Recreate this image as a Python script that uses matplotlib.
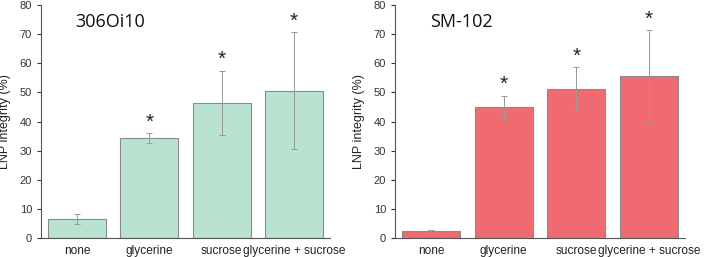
import matplotlib
matplotlib.use("Agg")
import matplotlib.pyplot as plt

plt.rcParams['font.family'] = ['Liberation Sans', 'DejaVu Sans']

categories = ["none", "glycerine", "sucrose", "glycerine + sucrose"]
left_title = "306Oi10"
left_values = [6.5, 34.2, 46.4, 50.6]
left_errors = [1.7, 1.7, 11.1, 20.1]
right_title = "SM-102"
right_values = [2.3, 45.1, 51.1, 55.6]
right_errors = [0.55, 3.8, 7.6, 15.8]
left_sig = [False, True, True, True]
right_sig = [False, True, True, True]
yticks = [0, 10, 20, 30, 40, 50, 60, 70, 80]

fig = plt.figure(figsize=(7.08, 2.57), dpi=100)
ax1 = fig.add_axes([41/708, 1-238/257, 289/708, 233/257])
ax2 = fig.add_axes([395/708, 1-238/257, 290/708, 233/257])

def draw(ax, title, vals, errs, sig, color):
    x = list(range(len(categories)))
    ax.bar(x, vals, width=0.8, color=color, edgecolor='#8a8a8a', linewidth=0.8, zorder=2)
    ax.errorbar(x, vals, yerr=errs, fmt='none', ecolor='#9a9a9a', elinewidth=0.7,
                capsize=2, capthick=0.7, zorder=3)
    for xi, v, e, s in zip(x, vals, errs, sig):
        if s:
            ax.text(xi, v + e + 0.5, "*", ha='center', va='bottom', fontsize=15, color='#222222')
    ax.set_xlim(-0.5, 3.5)
    ax.set_ylim(0, 80)
    ax.set_yticks(yticks)
    ax.set_xticks(x)
    ax.set_xticklabels(categories, fontsize=8.6)
    ax.tick_params(axis='x', length=0, pad=5, colors='#222222')
    ax.tick_params(axis='y', labelsize=8, length=3, direction='out', colors='#333333')
    for sp in ['top', 'right']:
        ax.spines[sp].set_visible(False)
    for sp in ['left', 'bottom']:
        ax.spines[sp].set_color('#555555')
        ax.spines[sp].set_linewidth(0.8)
    ax.set_ylabel("LNP integrity (%)", fontsize=9, color='#222222', labelpad=6)
    ax.text(0.12, 0.925, title, transform=ax.transAxes, fontsize=13,
            ha='left', va='center', family=['Open Sans', 'DejaVu Sans'], color='#111111')

draw(ax1, left_title, left_values, left_errors, left_sig, '#b8e3d1')
draw(ax2, right_title, right_values, right_errors, right_sig, '#f06b70')

fig.savefig("out.png", dpi=100)
